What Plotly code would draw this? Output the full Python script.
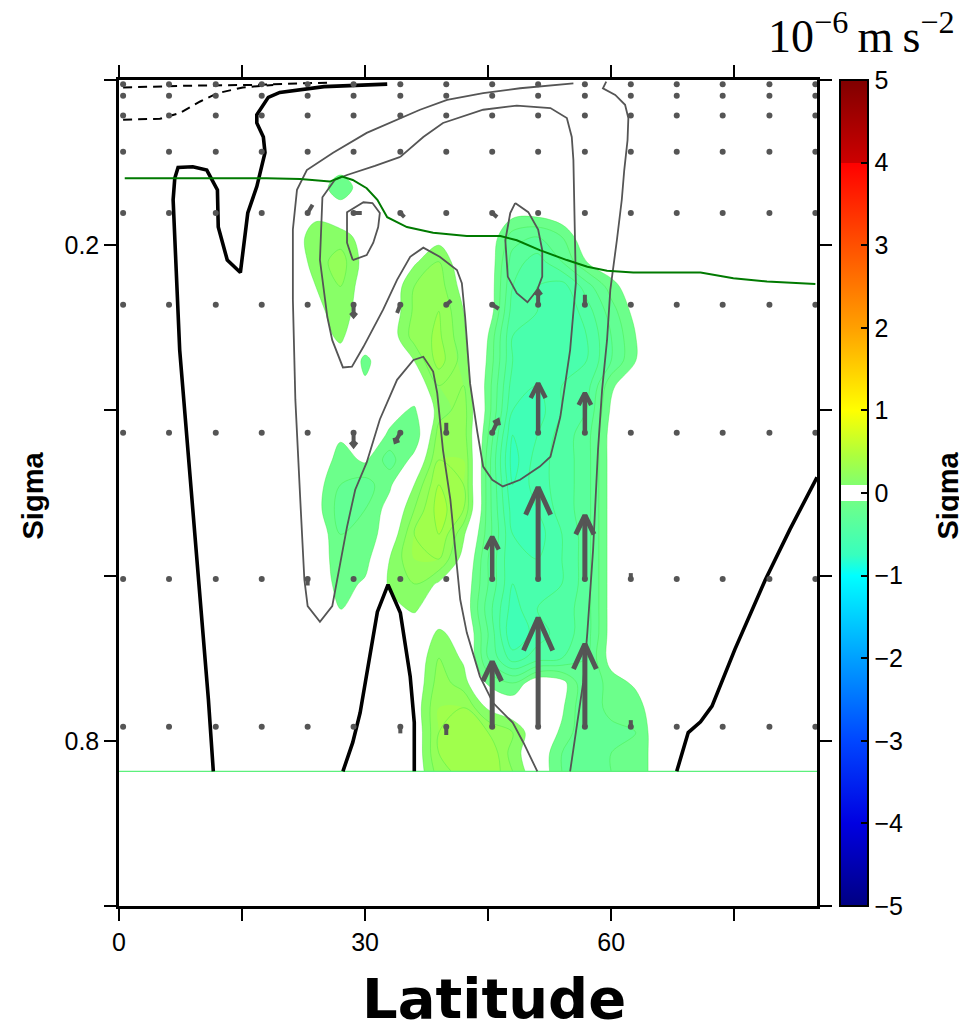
import math
import plotly.graph_objects as go

# ---------------------------------------------------------------- data
# filled field (10^-6 m s^-2) on a latitude / sigma grid
fill_lat = [0, 21, 24, 27, 30, 33, 36, 39, 42, 45, 48, 51, 54, 57, 60, 63, 66, 85.1]
fill_sigma = [0.0, 0.10, 0.13, 0.16, 0.19, 0.22, 0.25, 0.28, 0.31, 0.34, 0.37, 0.40,
              0.43, 0.46, 0.49, 0.52, 0.55, 0.58, 0.61, 0.64, 0.67, 0.70, 0.73,
              0.76, 0.79, 0.815, 0.837]
accel_core = [
    [0, 0, 0, 0, 0, 0, 0, 0, 0, 0, 0, 0, 0, 0, 0, 0],
    [0, 0, 0, 0, 0, 0, 0, 0, 0, 0, 0, 0, 0, 0, 0, 0],
    [0, 0, -0.2, 0, 0, 0, 0, 0, 0, 0, 0, 0, 0, 0, 0, 0],
    [0, 0.05, 0, 0, 0, 0, 0, 0, 0, -0.05, -0.05, 0, 0, 0, 0, 0],
    [0, 0.18, 0.15, 0.05, 0, 0, 0.05, 0, 0, -0.25, -0.3, -0.2, 0, 0, 0, 0],
    [0, 0.15, 0.25, 0.05, 0, 0.08, 0.2, 0, 0, -0.35, -0.45, -0.3, -0.1, 0, 0, 0],
    [0, 0.1, 0.2, 0.03, 0, 0.2, 0.25, 0.05, 0, -0.4, -0.5, -0.55, -0.35, -0.15, 0, 0],
    [0, 0.05, 0.18, 0, 0, 0.22, 0.3, 0.1, 0, -0.45, -0.5, -0.6, -0.45, -0.25, -0.05, 0],
    [0, 0.05, 0.12, 0, 0.02, 0.25, 0.32, 0.12, -0.1, -0.5, -0.55, -0.6, -0.5, -0.3, -0.1, 0],
    [0, 0, 0.05, -0.13, 0, 0.1, 0.35, 0.15, -0.12, -0.5, -0.55, -0.55, -0.5, -0.3, -0.1, 0],
    [0, 0, 0, -0.08, 0, 0, 0.2, 0.2, -0.15, -0.55, -0.6, -0.5, -0.45, -0.12, 0, 0],
    [0, 0, 0, 0, -0.05, -0.12, 0.15, 0.25, -0.15, -0.6, -0.65, -0.5, -0.4, -0.08, 0, 0],
    [0, 0, -0.08, 0, -0.12, -0.2, 0.25, 0.25, -0.2, -0.7, -0.6, -0.45, -0.35, -0.05, 0, 0],
    [0, 0, -0.15, -0.08, -0.25, -0.05, 0.3, 0.3, -0.25, -0.75, -0.55, -0.45, -0.35, -0.05, 0, 0],
    [0, -0.05, -0.2, -0.25, -0.12, 0.1, 0.4, 0.3, -0.25, -0.7, -0.55, -0.45, -0.35, -0.05, 0, 0],
    [0, -0.05, -0.25, -0.2, -0.05, 0.2, 0.45, 0.3, -0.25, -0.65, -0.6, -0.45, -0.35, -0.05, 0, 0],
    [0, 0, -0.2, -0.2, 0, 0.3, 0.4, 0.12, -0.25, -0.6, -0.65, -0.5, -0.35, -0.05, 0, 0],
    [0, 0, -0.18, -0.15, 0.1, 0.3, 0.3, 0.05, -0.3, -0.6, -0.6, -0.5, -0.35, -0.05, 0, 0],
    [0, 0, -0.15, -0.08, 0.12, 0.2, 0.08, 0, -0.3, -0.6, -0.55, -0.5, -0.35, -0.05, 0, 0],
    [0, 0, -0.11, 0, 0.06, 0.12, 0, 0, -0.35, -0.65, -0.5, -0.45, -0.35, -0.05, 0, 0],
    [0, 0, 0, 0, 0, 0, 0.12, 0.05, -0.3, -0.7, -0.55, -0.45, -0.35, -0.05, 0, 0],
    [0, 0, 0, 0, 0, 0, 0.2, 0.08, -0.3, -0.55, -0.45, -0.4, -0.3, -0.05, 0, 0],
    [0, 0, 0, 0, 0, 0, 0.25, 0.15, -0.12, -0.2, 0, -0.05, -0.3, -0.15, -0.08, 0],
    [0, 0, 0, 0, 0, 0.02, 0.3, 0.3, 0.08, 0, 0, -0.08, -0.3, -0.15, -0.15, 0],
    [0, 0, 0, 0, 0, 0, 0.3, 0.35, 0.3, 0.2, 0, -0.12, -0.3, -0.25, -0.2, 0],
    [0, 0, 0, 0, 0, 0, 0.3, 0.35, 0.4, 0.15, 0, -0.2, -0.3, -0.2, -0.2, 0],
    [0, 0, 0, 0, 0, 0, 0.25, 0.35, 0.4, 0.2, 0, -0.2, -0.3, -0.2, -0.2, 0],
]
bottom_sigma = 0.837

# zero contour (thick black)
zero1_lat = [32.7, 25.0, 19.6, 18.2, 16.8, 16.8, 17.6, 17.8, 16.8, 15.7, 14.8, 13.2, 12.1,
             12.0, 10.7, 9.0, 7.2, 6.8, 6.6, 7.4, 8.7, 9.9, 10.9, 11.5]
zero1_sig = [0.005, 0.008, 0.015, 0.021, 0.042, 0.052, 0.069, 0.088, 0.129, 0.161, 0.233,
             0.218, 0.178, 0.133, 0.109, 0.105, 0.106, 0.119, 0.145, 0.327, 0.484, 0.629,
             0.750, 0.837]
zero2_lat = [27.3, 28.5, 29.4, 31.5, 32.8, 34.3, 35.5, 36.0, 36.0]
zero2_sig = [0.837, 0.802, 0.766, 0.644, 0.611, 0.645, 0.722, 0.778, 0.837]
zero3_lat = [68.0, 69.4, 70.9, 72.3, 75.1, 78.8, 81.8, 83.7, 85.1]
zero3_sig = [0.837, 0.790, 0.777, 0.758, 0.689, 0.605, 0.544, 0.508, 0.481]

# negative contours (dashed)
neg1_lat = [0.5, 8.0, 16.0, 22.0, 26.0]
neg1_sig = [0.009, 0.007, 0.006, 0.004, 0.003]
neg2_lat = [0.5, 5.0, 7.4, 9.9, 12.0, 15.1, 18.8]
neg2_sig = [0.048, 0.047, 0.040, 0.026, 0.016, 0.009, 0.006]

# positive contours (grey)
pos1_lat = [55.4, 48.9, 44.4, 40.0, 36.7, 34.3, 30.2, 26.1, 22.9, 21.7, 21.2, 21.2, 21.5,
            22.1, 22.6, 23.0, 24.5, 26.0, 26.7, 27.8, 28.8, 30.2, 31.8, 33.9, 35.9, 37.1,
            38.3, 38.8, 39.5, 40.4, 41.0, 41.6, 42.4, 44.0, 45.6, 48.0, 49.3, 51.0]
pos1_sig = [0.004, 0.010, 0.016, 0.024, 0.036, 0.046, 0.064, 0.088, 0.109, 0.133, 0.181,
            0.266, 0.387, 0.508, 0.605, 0.637, 0.656, 0.637, 0.601, 0.541, 0.496, 0.463,
            0.411, 0.363, 0.339, 0.335, 0.353, 0.379, 0.448, 0.508, 0.569, 0.629, 0.669,
            0.722, 0.754, 0.778, 0.802, 0.837]
pos2_lat = [34.3, 37.1, 39.5, 44.4, 48.5, 52.6, 54.6, 55.2, 55.4, 55.6, 55.7, 55.0, 53.8,
            52.6, 51.3, 48.9, 46.8, 45.5, 44.4, 43.7, 42.8, 42.2, 41.8, 41.2, 39.1, 37.1,
            35.5, 33.9, 32.2, 29.8, 28.4, 27.3, 26.0, 25.4, 24.5, 24.8, 26.3, 27.8, 31.2,
            34.3]
pos2_sig = [0.093, 0.069, 0.052, 0.036, 0.031, 0.034, 0.046, 0.069, 0.097, 0.178, 0.246,
            0.327, 0.408, 0.456, 0.468, 0.484, 0.492, 0.484, 0.468, 0.427, 0.367, 0.287,
            0.246, 0.230, 0.214, 0.203, 0.214, 0.242, 0.278, 0.323, 0.347, 0.348, 0.315,
            0.287, 0.218, 0.142, 0.121, 0.115, 0.104, 0.093]
pos3_lat = [28.5, 27.8, 27.8, 29.8, 30.9, 31.8, 31.6, 31.0, 30.2, 28.5]
pos3_sig = [0.218, 0.197, 0.160, 0.148, 0.149, 0.161, 0.178, 0.197, 0.212, 0.218]
pos4_lat = [48.3, 49.9, 51.1, 51.6, 51.6, 51.0, 49.8, 48.5, 47.4, 47.1, 47.7, 48.3]
pos4_sig = [0.149, 0.160, 0.181, 0.206, 0.238, 0.254, 0.269, 0.258, 0.238, 0.194, 0.161,
            0.149]
pos5_lat = [59.4, 59.0, 60.5, 61.7, 62.1, 62.0, 61.6, 61.3, 60.7, 59.9, 59.5, 58.9, 58.4,
            57.8, 57.1, 56.6, 55.4, 55.0]
pos5_sig = [0.002, 0.010, 0.018, 0.030, 0.046, 0.073, 0.109, 0.145, 0.194, 0.254, 0.315,
            0.375, 0.448, 0.569, 0.669, 0.729, 0.810, 0.837]

# tropopause (green)
trop_lat = [0.7, 9.9, 18.0, 22.1, 25.7, 27.2, 28.5, 30.2, 31.5, 32.7, 35.1, 38.3, 42.4,
            46.5, 48.5, 51.3, 54.6, 57.1, 59.5, 62.7, 70.9, 74.9, 79.0, 84.9]
trop_sig = [0.119, 0.119, 0.119, 0.120, 0.123, 0.117, 0.121, 0.131, 0.145, 0.166, 0.178,
            0.185, 0.189, 0.189, 0.194, 0.206, 0.218, 0.226, 0.231, 0.233, 0.233, 0.240,
            0.244, 0.247]

# vector grid
q_lat = [0.5, 6.1, 11.8, 17.4, 23.0, 28.6, 34.3, 39.9, 45.5, 51.1, 56.8, 62.4, 68.0,
         73.6, 79.3, 84.9]
q_sigma = [0.005, 0.019, 0.043, 0.087, 0.161, 0.272, 0.427, 0.604, 0.783]
arrow_lat = [51.1, 51.1, 51.1, 51.1, 45.5, 45.5, 56.8, 56.8, 56.8, 56.8, 45.5, 45.5, 39.9,
             39.9, 34.3, 28.6, 28.6, 34.3, 23.0, 34.3, 39.9, 62.4, 62.4, 23.0, 28.6, 34.3,
             45.5]
arrow_sigma = [0.783, 0.604, 0.427, 0.272, 0.783, 0.604, 0.783, 0.604, 0.427, 0.272, 0.427,
               0.272, 0.272, 0.427, 0.427, 0.427, 0.272, 0.272, 0.604, 0.783, 0.783, 0.783,
               0.604, 0.161, 0.161, 0.161, 0.161]
arrow_dlat = [0, 0, 0, 0, 0, 0, 0, 0, 0, 0, 0.7, 0.8, 0.6, 0, -0.6, 0, 0, -0.4, 0, 0, 0,
              0, 0, 0.6, 1.0, 0.5, 0.6]
arrow_dsigma = [-0.132, -0.111, -0.060, -0.017, -0.079, -0.051, -0.100, -0.077, -0.048,
                -0.012, -0.015, 0.005, -0.005, -0.012, 0.011, 0.016, 0.014, 0.010, 0.008,
                0.008, 0.010, -0.008, -0.007, -0.010, 0.0, 0.005, 0.005]

cbar_ticks = [-5, -4, -3, -2, -1, 0, 1, 2, 3, 4, 5]
color_stops = [(-5, 'rgb(0,0,130)'), (-4, 'rgb(0,0,225)'), (-3, 'rgb(0,70,255)'),
               (-2, 'rgb(0,160,255)'), (-1, 'rgb(0,255,255)'), (-0.75, 'rgb(55,255,190)'),
               (-0.1001, 'rgb(112,255,135)'), (-0.1, 'rgb(255,255,255)'),
               (0.1, 'rgb(255,255,255)'), (0.1001, 'rgb(130,255,110)'),
               (0.45, 'rgb(172,255,62)'), (1, 'rgb(255,255,0)'), (2, 'rgb(255,160,0)'),
               (3, 'rgb(255,80,0)'), (4, 'rgb(255,0,0)'), (4.001, 'rgb(205,0,0)'),
               (5, 'rgb(128,0,0)')]

# ---------------------------------------------------------------- layout constants
W, H = 959, 1031
ML, MR, MT, MB = 119, 142, 80, 125
LAT_MAX = 85.1
PW, PH = W - ML - MR, H - MT - MB
kx, ky = PW / LAT_MAX, PH / 1.0

colorscale = [[(v + 5) / 10.0, c] for v, c in color_stops]
# pad each row with the zero-valued domain edges (lat 0 and lat 85.1)
accel = [[0.0] + row + [0.0] for row in accel_core]

fig = go.Figure()

fig.add_trace(go.Contour(
    x=fill_lat, y=fill_sigma, z=accel, colorscale=colorscale, zmin=-5, zmax=5,
    autocontour=False, contours=dict(start=-5, end=5, size=0.1, coloring='fill',
                                     showlines=False),
    line=dict(width=0), showscale=False, hoverinfo='skip'))
for s0, s1 in ((0.1, 0.5), (-0.8, -0.1)):
    fig.add_trace(go.Contour(
        x=fill_lat, y=fill_sigma, z=accel, autocontour=False,
        contours=dict(start=s0, end=s1, size=0.1, coloring='none', showlines=True),
        line=dict(width=0.8, color='rgba(70,235,70,0.55)'), showscale=False,
        hoverinfo='skip'))

# bottom boundary of the field
fig.add_trace(go.Scatter(x=[0, LAT_MAX], y=[bottom_sigma, bottom_sigma], mode='lines',
                         line=dict(color='#5cf07c', width=1.4), hoverinfo='skip'))

# contour lines
for xs, ys in ((pos1_lat, pos1_sig), (pos2_lat, pos2_sig), (pos3_lat, pos3_sig),
               (pos4_lat, pos4_sig), (pos5_lat, pos5_sig)):
    fig.add_trace(go.Scatter(x=xs, y=ys, mode='lines',
                             line=dict(color='#555555', width=1.8), hoverinfo='skip'))
for xs, ys in ((neg1_lat, neg1_sig), (neg2_lat, neg2_sig)):
    fig.add_trace(go.Scatter(x=xs, y=ys, mode='lines',
                             line=dict(color='black', width=2, dash='9px,6px'),
                             hoverinfo='skip'))
for xs, ys in ((zero1_lat, zero1_sig), (zero2_lat, zero2_sig), (zero3_lat, zero3_sig)):
    fig.add_trace(go.Scatter(x=xs, y=ys, mode='lines',
                             line=dict(color='black', width=3.6), hoverinfo='skip'))

fig.add_trace(go.Scatter(x=trop_lat, y=trop_sig, mode='lines',
                         line=dict(color='#007a00', width=2), hoverinfo='skip'))

# vector dots
dot_x = [la for sg in q_sigma for la in q_lat]
dot_y = [sg for sg in q_sigma for la in q_lat]
fig.add_trace(go.Scatter(x=dot_x, y=dot_y, mode='markers',
                         marker=dict(color='#555555', size=6), hoverinfo='skip',
                         cliponaxis=False))


def arrow_path(lo, hi):
    xs, ys = [], []
    for la, sg, dl, ds in zip(arrow_lat, arrow_sigma, arrow_dlat, arrow_dsigma):
        dx, dy = dl * kx, ds * ky
        L = math.hypot(dx, dy)
        if not (lo <= L < hi) or L == 0:
            continue
        tx, ty = la + dl, sg + ds
        xs += [la, tx, None]
        ys += [sg, ty, None]
        if L >= 10:
            ux, uy = dx / L, dy / L
            h = 0.3 * L
            w = 0.4 * h + 1.5
            bl = (dx - h * ux - w * uy, dy - h * uy + w * ux)
            br = (dx - h * ux + w * uy, dy - h * uy - w * ux)
            xs += [la + bl[0] / kx, tx, la + br[0] / kx, None]
            ys += [sg + bl[1] / ky, ty, sg + br[1] / ky, None]
    return xs, ys


for lo, hi, wd in ((0, 20, 4.0), (20, 60, 4.5), (60, 1e9, 5.0)):
    ax_, ay_ = arrow_path(lo, hi)
    if ax_:
        fig.add_trace(go.Scatter(x=ax_, y=ay_, mode='lines',
                                 line=dict(color='#555555', width=wd),
                                 hoverinfo='skip'))

# colorbar carrier
fig.add_trace(go.Scatter(
    x=[-10, -10], y=[2, 2], mode='markers', hoverinfo='skip',
    marker=dict(color=[-5, 5], cmin=-5, cmax=5, colorscale=colorscale, size=1, opacity=0,
                showscale=True,
                colorbar=dict(thickness=28, thicknessmode='pixels', len=1,
                              lenmode='fraction', x=(840 - ML) / PW, xanchor='left',
                              y=0.5, yanchor='middle', xpad=0, ypad=0,
                              outlinewidth=2, outlinecolor='black',
                              tickvals=cbar_ticks, ticks='inside', ticklen=8,
                              tickwidth=1.5, tickcolor='black',
                              tickfont=dict(family='Liberation Sans', size=25,
                                            color='black')))))

axis_common = dict(showline=True, linewidth=2.5, linecolor='black', mirror='allticks',
                   ticks='outside', ticklen=12, tickwidth=2, tickcolor='black',
                   showgrid=False, zeroline=False,
                   tickfont=dict(family='Liberation Sans', size=25, color='black'))
fig.update_xaxes(range=[0, LAT_MAX], tickvals=[0, 15, 30, 45, 60, 75],
                 ticktext=['0', ' ', '30', ' ', '60', ' '], **axis_common)
fig.update_yaxes(range=[1.0, 0.0], tickvals=[0, 0.2, 0.4, 0.6, 0.8, 1.0],
                 ticktext=[' ', '0.2', ' ', ' ', '0.8', ' '], **axis_common)

fig.update_layout(
    width=W, height=H, margin=dict(l=ML, r=MR, t=MT, b=MB, autoexpand=False),
    paper_bgcolor='white', plot_bgcolor='white', showlegend=False,
    annotations=[
        dict(text='<b>Sigma</b>', xref='paper', yref='paper', x=(33 - ML) / PW, y=0.497,
             textangle=-90, showarrow=False, xanchor='center', yanchor='middle',
             font=dict(family='Liberation Sans', size=29, color='black')),
        dict(text='<b>Sigma</b>', xref='paper', yref='paper', x=(948 - ML) / PW, y=0.497,
             textangle=-90, showarrow=False, xanchor='center', yanchor='middle',
             font=dict(family='Liberation Sans', size=29, color='black')),
        dict(text='<b>Latitude</b>', xref='paper', yref='paper', x=(494 - ML) / PW,
             y=(MT + PH - 998) / PH, showarrow=False, xanchor='center',
             yanchor='middle',
             font=dict(family='DejaVu Sans', size=56, color='black')),
        dict(text='10<sup>\u22126</sup>\u2009m\u2009s<sup>\u22122</sup>', xref='paper',
             yref='paper', x=(957 - ML) / PW, y=(MT + PH - 33) / PH, showarrow=False,
             xanchor='right', yanchor='middle',
             font=dict(family='Liberation Serif', size=46, color='black')),
    ])

fig.write_html('out.html')
